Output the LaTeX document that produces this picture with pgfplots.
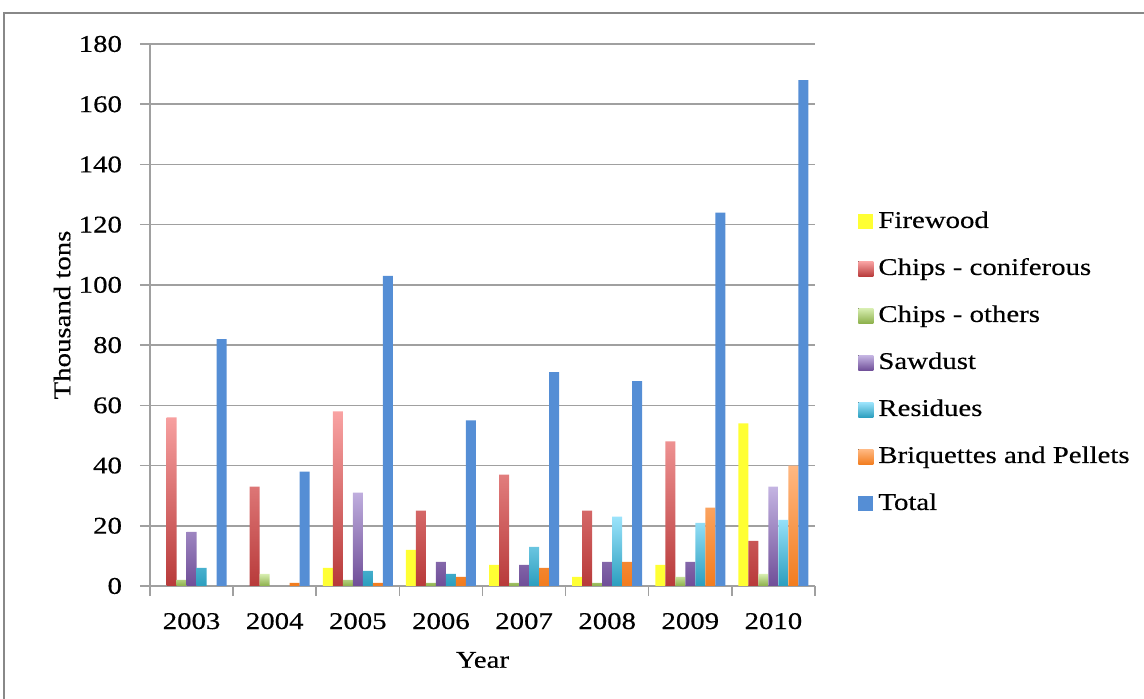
\documentclass[border=0pt]{standalone}
\usepackage{fontspec}
\setmainfont{Liberation Serif}[FakeStretch=1.2, FakeBold=0.4]
\usepackage{pgfplots}
\pgfplotsset{compat=1.18}
\definecolor{fw}{HTML}{FFFF33}
\definecolor{cct}{HTML}{F9A3A3}\definecolor{ccb}{HTML}{B83A3A}
\definecolor{cot}{HTML}{D7EDB0}\definecolor{cob}{HTML}{8CB04A}
\definecolor{sdt}{HTML}{C4B4E2}\definecolor{sdb}{HTML}{6F4E98}
\definecolor{ret}{HTML}{9BE3FB}\definecolor{reb}{HTML}{2B9EBE}
\definecolor{brt}{HTML}{FFB882}\definecolor{brb}{HTML}{F27C1E}
\definecolor{tot}{HTML}{558ED5}
\definecolor{gridc}{HTML}{A0A0A0}
\begin{document}
\begin{tikzpicture}
\begin{axis}[
  scale only axis, width=332.5bp, height=271bp,
  at={(0,0)}, anchor=south west,
  xmin=-0.5, xmax=7.5, ymin=0, ymax=180,
  ytick={0,20,...,180},
  xtick={-0.5,0.5,...,7.5}, xticklabels={},
  extra x ticks={0,1,...,7},
  extra x tick labels={2003,2004,2005,2006,2007,2008,2009,2010},
  extra x tick style={major tick length=0pt, grid=none, tick label style={yshift=-10bp}},
  axis x line*=bottom, axis y line*=left,
  axis line style={gridc, line width=0.75bp, -},
  tick style={gridc, line width=0.75bp},
  tick align=outside, major tick length=5bp,
  ymajorgrids, grid style={gridc, line width=0.75bp},
  font=\fontsize{12bp}{14bp}\selectfont,
  tick label style={font=\fontsize{12bp}{14bp}\selectfont},
  /pgf/number format/assume math mode=true,
  yticklabel style={xshift=-5.5bp},
  ylabel={Thousand tons}, xlabel={Year},
  every axis y label/.style={at={(rel axis cs:-0.1323,0.5)}, rotate=90, anchor=center},
  every axis x label/.style={at={(rel axis cs:0.5,-0.1365)}, anchor=center},
  ybar=0pt, bar width=5bp,
  legend style={at={(rel axis cs:1.0647,0.4115)}, anchor=west, draw=none, fill=none,
    inner sep=0pt, row sep=11.5bp,
    nodes={inner sep=0pt, text height=9bp, text depth=3bp, anchor=west},
    font=\fontsize{12bp}{14bp}\selectfont},
  legend cell align=left,
  legend image code/.code={\fill[#1] (0bp,-3.75bp) rectangle (7.5bp,3.75bp); \path (10bp,0);},
]
\addplot[draw=none, fill=fw] coordinates {(0,0) (1,0) (2,6) (3,12) (4,7) (5,3) (6,7) (7,54)};
\addplot[draw=none, top color=cct, bottom color=ccb] coordinates {(0,56) (1,33) (2,58) (3,25) (4,37) (5,25) (6,48) (7,15)};
\addplot[draw=none, top color=cot, bottom color=cob] coordinates {(0,2) (1,4) (2,2) (3,1) (4,1) (5,1) (6,3) (7,4)};
\addplot[draw=none, top color=sdt, bottom color=sdb] coordinates {(0,18) (1,0) (2,31) (3,8) (4,7) (5,8) (6,8) (7,33)};
\addplot[draw=none, top color=ret, bottom color=reb] coordinates {(0,6) (1,0) (2,5) (3,4) (4,13) (5,23) (6,21) (7,22)};
\addplot[draw=none, top color=brt, bottom color=brb] coordinates {(0,0) (1,1) (2,1) (3,3) (4,6) (5,8) (6,26) (7,40)};
\addplot[draw=none, fill=tot] coordinates {(0,82) (1,38) (2,103) (3,55) (4,71) (5,68) (6,124) (7,168)};
\legend{Firewood, Chips - coniferous, Chips - others, Sawdust, Residues, Briquettes and Pellets, Total}
\end{axis}
\draw[color=gridc!85!black, line width=1bp] (-73bp,-70bp) -- (-73bp,286.5bp) -- (510bp,286.5bp);
\pgfresetboundingbox
\useasboundingbox (-75bp,-56.5bp) rectangle (497bp,293bp);
\end{tikzpicture}
\end{document}
